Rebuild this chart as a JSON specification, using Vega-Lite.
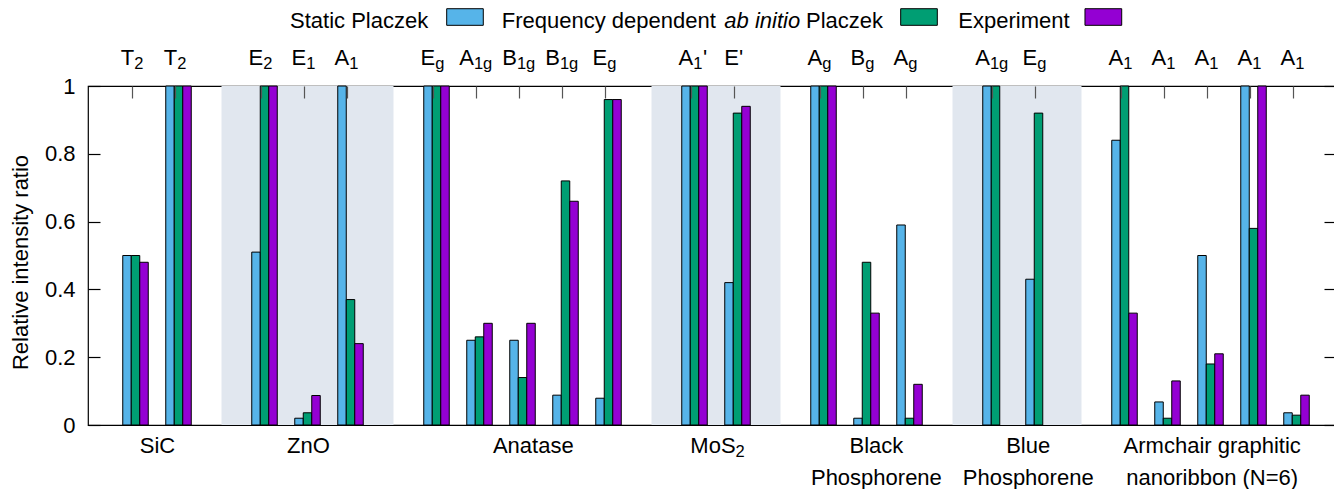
{
  "$schema": "https://vega.github.io/schema/vega-lite/v6.json",
  "width": 1248,
  "height": 339,
  "autosize": {"type": "none"},
  "padding": {"left": 88, "top": 86, "right": 0, "bottom": 64},
  "config": {
    "font": "Liberation Sans",
    "view": {"stroke": "#000", "strokeWidth": 1.2},
    "text": {"font": "Liberation Sans", "color": "#000"},
    "scale": {"continuousPadding": 0}
  },
  "datasets": {
    "bars": [
      {"slot": 0, "series": "Static Placzek", "value": 0.50},
      {"slot": 0, "series": "Frequency dependent ab initio Placzek", "value": 0.50},
      {"slot": 0, "series": "Experiment", "value": 0.48},
      {"slot": 1, "series": "Static Placzek", "value": 1},
      {"slot": 1, "series": "Frequency dependent ab initio Placzek", "value": 1},
      {"slot": 1, "series": "Experiment", "value": 1},
      {"slot": 3, "series": "Static Placzek", "value": 0.51},
      {"slot": 3, "series": "Frequency dependent ab initio Placzek", "value": 1},
      {"slot": 3, "series": "Experiment", "value": 1},
      {"slot": 4, "series": "Static Placzek", "value": 0.02},
      {"slot": 4, "series": "Frequency dependent ab initio Placzek", "value": 0.036},
      {"slot": 4, "series": "Experiment", "value": 0.087},
      {"slot": 5, "series": "Static Placzek", "value": 1},
      {"slot": 5, "series": "Frequency dependent ab initio Placzek", "value": 0.37},
      {"slot": 5, "series": "Experiment", "value": 0.24},
      {"slot": 7, "series": "Static Placzek", "value": 1},
      {"slot": 7, "series": "Frequency dependent ab initio Placzek", "value": 1},
      {"slot": 7, "series": "Experiment", "value": 1},
      {"slot": 8, "series": "Static Placzek", "value": 0.25},
      {"slot": 8, "series": "Frequency dependent ab initio Placzek", "value": 0.26},
      {"slot": 8, "series": "Experiment", "value": 0.30},
      {"slot": 9, "series": "Static Placzek", "value": 0.25},
      {"slot": 9, "series": "Frequency dependent ab initio Placzek", "value": 0.14},
      {"slot": 9, "series": "Experiment", "value": 0.30},
      {"slot": 10, "series": "Static Placzek", "value": 0.088},
      {"slot": 10, "series": "Frequency dependent ab initio Placzek", "value": 0.72},
      {"slot": 10, "series": "Experiment", "value": 0.66},
      {"slot": 11, "series": "Static Placzek", "value": 0.079},
      {"slot": 11, "series": "Frequency dependent ab initio Placzek", "value": 0.96},
      {"slot": 11, "series": "Experiment", "value": 0.96},
      {"slot": 13, "series": "Static Placzek", "value": 1},
      {"slot": 13, "series": "Frequency dependent ab initio Placzek", "value": 1},
      {"slot": 13, "series": "Experiment", "value": 1},
      {"slot": 14, "series": "Static Placzek", "value": 0.42},
      {"slot": 14, "series": "Frequency dependent ab initio Placzek", "value": 0.92},
      {"slot": 14, "series": "Experiment", "value": 0.94},
      {"slot": 16, "series": "Static Placzek", "value": 1},
      {"slot": 16, "series": "Frequency dependent ab initio Placzek", "value": 1},
      {"slot": 16, "series": "Experiment", "value": 1},
      {"slot": 17, "series": "Static Placzek", "value": 0.02},
      {"slot": 17, "series": "Frequency dependent ab initio Placzek", "value": 0.48},
      {"slot": 17, "series": "Experiment", "value": 0.33},
      {"slot": 18, "series": "Static Placzek", "value": 0.59},
      {"slot": 18, "series": "Frequency dependent ab initio Placzek", "value": 0.02},
      {"slot": 18, "series": "Experiment", "value": 0.12},
      {"slot": 20, "series": "Static Placzek", "value": 1},
      {"slot": 20, "series": "Frequency dependent ab initio Placzek", "value": 1},
      {"slot": 21, "series": "Static Placzek", "value": 0.43},
      {"slot": 21, "series": "Frequency dependent ab initio Placzek", "value": 0.92},
      {"slot": 23, "series": "Static Placzek", "value": 0.84},
      {"slot": 23, "series": "Frequency dependent ab initio Placzek", "value": 1},
      {"slot": 23, "series": "Experiment", "value": 0.33},
      {"slot": 24, "series": "Static Placzek", "value": 0.068},
      {"slot": 24, "series": "Frequency dependent ab initio Placzek", "value": 0.02},
      {"slot": 24, "series": "Experiment", "value": 0.13},
      {"slot": 25, "series": "Static Placzek", "value": 0.50},
      {"slot": 25, "series": "Frequency dependent ab initio Placzek", "value": 0.18},
      {"slot": 25, "series": "Experiment", "value": 0.21},
      {"slot": 26, "series": "Static Placzek", "value": 1},
      {"slot": 26, "series": "Frequency dependent ab initio Placzek", "value": 0.58},
      {"slot": 26, "series": "Experiment", "value": 1},
      {"slot": 27, "series": "Static Placzek", "value": 0.036},
      {"slot": 27, "series": "Frequency dependent ab initio Placzek", "value": 0.029},
      {"slot": 27, "series": "Experiment", "value": 0.088}
    ],
    "modes": [
      {"slot": 0, "main": "T", "sub": "2"},
      {"slot": 1, "main": "T", "sub": "2"},
      {"slot": 3, "main": "E", "sub": "2"},
      {"slot": 4, "main": "E", "sub": "1"},
      {"slot": 5, "main": "A", "sub": "1"},
      {"slot": 7, "main": "E", "sub": "g"},
      {"slot": 8, "main": "A", "sub": "1g"},
      {"slot": 9, "main": "B", "sub": "1g"},
      {"slot": 10, "main": "B", "sub": "1g"},
      {"slot": 11, "main": "E", "sub": "g"},
      {"slot": 13, "main": "A", "sub": "1", "post": "'"},
      {"slot": 14, "plain": "E'"},
      {"slot": 16, "main": "A", "sub": "g"},
      {"slot": 17, "main": "B", "sub": "g"},
      {"slot": 18, "main": "A", "sub": "g"},
      {"slot": 20, "main": "A", "sub": "1g"},
      {"slot": 21, "main": "E", "sub": "g"},
      {"slot": 23, "main": "A", "sub": "1"},
      {"slot": 24, "main": "A", "sub": "1"},
      {"slot": 25, "main": "A", "sub": "1"},
      {"slot": 26, "main": "A", "sub": "1"},
      {"slot": 27, "main": "A", "sub": "1"}
    ],
    "groups": [
      {"pos": 0.51, "name": "SiC"},
      {"pos": 4.02, "name": "ZnO"},
      {"pos": 9.25, "name": "Anatase"},
      {"pos": 13.43, "name": "MoS", "sub": "2"},
      {"pos": 17.23, "name": "Black\nPhosphorene"},
      {"pos": 20.76, "name": "Blue\nPhosphorene"},
      {"pos": 25.04, "name": "Armchair graphitic\nnanoribbon (N=6)"}
    ],
    "shades": [
      {"group": "ZnO", "start": 2, "end": 6},
      {"group": "MoS2", "start": 12, "end": 15},
      {"group": "Blue Phosphorene", "start": 19, "end": 22}
    ],
    "legend": [
      {"series": "Static Placzek"},
      {"series": "Frequency dependent ab initio Placzek"},
      {"series": "Experiment"}
    ]
  },
  "resolve": {"axis": {"x": "independent", "y": "independent"}},
  "layer": [
    {
      "data": {"name": "shades"},
      "mark": {"type": "rect", "color": "#e1e7ef"},
      "encoding": {
        "x": {"field": "start", "type": "quantitative", "scale": {"domain": [-1.1047, 27.9186], "nice": false, "zero": false, "padding": 0}, "axis": null},
        "x2": {"field": "end"},
        "y": {"datum": 0, "type": "quantitative", "scale": {"domain": [0, 1], "nice": false}, "axis": null},
        "y2": {"datum": 1}
      }
    },
    {
      "data": {"name": "bars"},
      "transform": [{"filter": "datum.series == 'Static Placzek'"}],
      "mark": {"type": "bar", "width": 8.5, "xOffset": -8.5, "stroke": "#000", "strokeWidth": 1},
      "encoding": {
        "x": {"field": "slot", "type": "quantitative", "scale": {"domain": [-1.1047, 27.9186], "nice": false, "zero": false, "padding": 0},
          "axis": {"orient": "top", "values": [0, 1, 3, 4, 5, 7, 8, 9, 10, 11, 13, 14, 16, 17, 18, 20, 21, 23, 24, 25, 26, 27], "labels": false, "domain": false, "grid": false, "ticks": true, "tickSize": -12, "tickColor": "#555", "tickWidth": 1.2, "tickOffset": -4, "title": null, "zindex": 1}},
        "y": {"field": "value", "type": "quantitative", "scale": {"domain": [0, 1], "nice": false},
          "axis": {"orient": "left", "values": [0, 0.2, 0.4, 0.6, 0.8, 1], "format": "~g", "domain": false, "grid": false, "tickSize": -12, "tickColor": "#000", "tickWidth": 1.2, "labelFontSize": 22, "labelColor": "#000", "labelPadding": 25, "title": "Relative intensity ratio", "titleFontSize": 22, "titleFontWeight": "normal", "titleColor": "#000", "titlePadding": 12, "titleY": 176, "zindex": 1}},
        "fill": {"field": "series", "type": "nominal", "scale": {"domain": ["Static Placzek", "Frequency dependent ab initio Placzek", "Experiment"], "range": ["#56B4E9", "#009E73", "#9400D3"]}, "legend": null}
      }
    },
    {
      "data": {"name": "bars"},
      "transform": [{"filter": "datum.series == 'Frequency dependent ab initio Placzek'"}],
      "mark": {"type": "bar", "width": 8.5, "xOffset": 0, "stroke": "#000", "strokeWidth": 1},
      "encoding": {
        "x": {"field": "slot", "type": "quantitative", "scale": {"domain": [-1.1047, 27.9186], "nice": false, "zero": false, "padding": 0}, "axis": null},
        "y": {"field": "value", "type": "quantitative", "scale": {"domain": [0, 1], "nice": false},
          "axis": {"orient": "right", "values": [0, 0.2, 0.4, 0.6, 0.8, 1], "labels": false, "domain": false, "grid": false, "tickSize": -12, "tickColor": "#000", "tickWidth": 1.2, "title": null, "zindex": 1}},
        "fill": {"field": "series", "type": "nominal", "legend": null}
      }
    },
    {
      "data": {"name": "bars"},
      "transform": [{"filter": "datum.series == 'Experiment'"}],
      "mark": {"type": "bar", "width": 8.5, "xOffset": 8.5, "stroke": "#000", "strokeWidth": 1},
      "encoding": {
        "x": {"field": "slot", "type": "quantitative", "scale": {"domain": [-1.1047, 27.9186], "nice": false, "zero": false, "padding": 0}, "axis": null},
        "y": {"field": "value", "type": "quantitative", "scale": {"domain": [0, 1], "nice": false}, "axis": null},
        "fill": {"field": "series", "type": "nominal", "legend": null}
      }
    },
    {
      "data": {"name": "modes"},
      "transform": [{"filter": "datum.main && length(datum.sub) == 1"}],
      "mark": {"type": "text", "align": "right", "baseline": "alphabetic", "dx": -1.3, "dy": -21, "fontSize": 22, "clip": false},
      "encoding": {
        "x": {"field": "slot", "type": "quantitative", "scale": {"domain": [-1.1047, 27.9186], "nice": false, "zero": false, "padding": 0}, "axis": null},
        "y": {"datum": 1, "type": "quantitative", "scale": {"domain": [0, 1], "nice": false}, "axis": null},
        "text": {"field": "main"}
      }
    },
    {
      "data": {"name": "modes"},
      "transform": [{"filter": "datum.main && length(datum.sub) == 1"}],
      "mark": {"type": "text", "align": "left", "baseline": "alphabetic", "dx": -1.3, "dy": -17, "fontSize": 16.5, "clip": false},
      "encoding": {
        "x": {"field": "slot", "type": "quantitative", "scale": {"domain": [-1.1047, 27.9186], "nice": false, "zero": false, "padding": 0}, "axis": null},
        "y": {"datum": 1, "type": "quantitative", "scale": {"domain": [0, 1], "nice": false}, "axis": null},
        "text": {"field": "sub"}
      }
    },
    {
      "data": {"name": "modes"},
      "transform": [{"filter": "datum.main && length(datum.sub) == 2"}],
      "mark": {"type": "text", "align": "right", "baseline": "alphabetic", "dx": -5.6, "dy": -21, "fontSize": 22, "clip": false},
      "encoding": {
        "x": {"field": "slot", "type": "quantitative", "scale": {"domain": [-1.1047, 27.9186], "nice": false, "zero": false, "padding": 0}, "axis": null},
        "y": {"datum": 1, "type": "quantitative", "scale": {"domain": [0, 1], "nice": false}, "axis": null},
        "text": {"field": "main"}
      }
    },
    {
      "data": {"name": "modes"},
      "transform": [{"filter": "datum.main && length(datum.sub) == 2"}],
      "mark": {"type": "text", "align": "left", "baseline": "alphabetic", "dx": -5.6, "dy": -17, "fontSize": 16.5, "clip": false},
      "encoding": {
        "x": {"field": "slot", "type": "quantitative", "scale": {"domain": [-1.1047, 27.9186], "nice": false, "zero": false, "padding": 0}, "axis": null},
        "y": {"datum": 1, "type": "quantitative", "scale": {"domain": [0, 1], "nice": false}, "axis": null},
        "text": {"field": "sub"}
      }
    },
    {
      "data": {"name": "modes"},
      "transform": [{"filter": "datum.post"}],
      "mark": {"type": "text", "align": "left", "baseline": "alphabetic", "dx": 8.4, "dy": -21, "fontSize": 22, "clip": false},
      "encoding": {
        "x": {"field": "slot", "type": "quantitative", "scale": {"domain": [-1.1047, 27.9186], "nice": false, "zero": false, "padding": 0}, "axis": null},
        "y": {"datum": 1, "type": "quantitative", "scale": {"domain": [0, 1], "nice": false}, "axis": null},
        "text": {"field": "post"}
      }
    },
    {
      "data": {"name": "modes"},
      "transform": [{"filter": "datum.plain"}],
      "mark": {"type": "text", "align": "center", "baseline": "alphabetic", "dx": -3.8, "dy": -21, "fontSize": 22, "clip": false},
      "encoding": {
        "x": {"field": "slot", "type": "quantitative", "scale": {"domain": [-1.1047, 27.9186], "nice": false, "zero": false, "padding": 0}, "axis": null},
        "y": {"datum": 1, "type": "quantitative", "scale": {"domain": [0, 1], "nice": false}, "axis": null},
        "text": {"field": "plain"}
      }
    },
    {
      "data": {"name": "groups"},
      "mark": {"type": "text", "align": "center", "baseline": "alphabetic", "dy": 28, "fontSize": 22, "lineBreak": "\n", "lineHeight": 32, "clip": false},
      "encoding": {
        "x": {"field": "pos", "type": "quantitative", "scale": {"domain": [-1.1047, 27.9186], "nice": false, "zero": false, "padding": 0}, "axis": null},
        "y": {"datum": 0, "type": "quantitative", "scale": {"domain": [0, 1], "nice": false}, "axis": null},
        "text": {"field": "name"}
      }
    },
    {
      "data": {"name": "groups"},
      "transform": [{"filter": "datum.sub"}],
      "mark": {"type": "text", "align": "left", "baseline": "alphabetic", "dx": 22.6, "dy": 32, "fontSize": 16.5, "clip": false},
      "encoding": {
        "x": {"field": "pos", "type": "quantitative", "scale": {"domain": [-1.1047, 27.9186], "nice": false, "zero": false, "padding": 0}, "axis": null},
        "y": {"datum": 0, "type": "quantitative", "scale": {"domain": [0, 1], "nice": false}, "axis": null},
        "text": {"field": "sub"}
      }
    },
    {
      "data": {"name": "legend"},
      "transform": [{"filter": "datum.series == 'Static Placzek'"}],
      "mark": {"type": "text", "align": "left", "baseline": "alphabetic", "dy": -58, "fontSize": 22, "clip": false},
      "encoding": {
        "x": {"datum": 3.593, "type": "quantitative", "scale": {"domain": [-1.1047, 27.9186], "nice": false, "zero": false, "padding": 0}, "axis": null},
        "y": {"datum": 1, "type": "quantitative", "scale": {"domain": [0, 1], "nice": false}, "axis": null},
        "text": {"field": "series"}
      }
    },
    {
      "data": {"name": "legend"},
      "transform": [{"filter": "datum.series == 'Frequency dependent ab initio Placzek'"}],
      "mark": {"type": "text", "align": "left", "baseline": "alphabetic", "dy": -58, "fontSize": 22, "clip": false, "text": "Frequency dependent"},
      "encoding": {
        "x": {"datum": 8.516, "type": "quantitative", "scale": {"domain": [-1.1047, 27.9186], "nice": false, "zero": false, "padding": 0}, "axis": null},
        "y": {"datum": 1, "type": "quantitative", "scale": {"domain": [0, 1], "nice": false}, "axis": null}
      }
    },
    {
      "data": {"name": "legend"},
      "transform": [{"filter": "datum.series == 'Frequency dependent ab initio Placzek'"}],
      "mark": {"type": "text", "align": "left", "baseline": "alphabetic", "dy": -58, "fontSize": 22, "fontStyle": "italic", "clip": false, "text": "ab initio"},
      "encoding": {
        "x": {"datum": 13.693, "type": "quantitative", "scale": {"domain": [-1.1047, 27.9186], "nice": false, "zero": false, "padding": 0}, "axis": null},
        "y": {"datum": 1, "type": "quantitative", "scale": {"domain": [0, 1], "nice": false}, "axis": null}
      }
    },
    {
      "data": {"name": "legend"},
      "transform": [{"filter": "datum.series == 'Frequency dependent ab initio Placzek'"}],
      "mark": {"type": "text", "align": "left", "baseline": "alphabetic", "dy": -58, "fontSize": 22, "clip": false, "text": "Placzek"},
      "encoding": {
        "x": {"datum": 15.593, "type": "quantitative", "scale": {"domain": [-1.1047, 27.9186], "nice": false, "zero": false, "padding": 0}, "axis": null},
        "y": {"datum": 1, "type": "quantitative", "scale": {"domain": [0, 1], "nice": false}, "axis": null}
      }
    },
    {
      "data": {"name": "legend"},
      "transform": [{"filter": "datum.series == 'Experiment'"}],
      "mark": {"type": "text", "align": "left", "baseline": "alphabetic", "dy": -58, "fontSize": 22, "clip": false},
      "encoding": {
        "x": {"datum": 19.135, "type": "quantitative", "scale": {"domain": [-1.1047, 27.9186], "nice": false, "zero": false, "padding": 0}, "axis": null},
        "y": {"datum": 1, "type": "quantitative", "scale": {"domain": [0, 1], "nice": false}, "axis": null},
        "text": {"field": "series"}
      }
    },
    {
      "data": {"name": "legend"},
      "transform": [{"filter": "datum.series == 'Static Placzek'"}],
      "mark": {"type": "rect", "stroke": "#000", "strokeWidth": 1, "clip": false},
      "encoding": {
        "x": {"datum": 7.237, "type": "quantitative", "scale": {"domain": [-1.1047, 27.9186], "nice": false, "zero": false, "padding": 0}, "axis": null},
        "x2": {"datum": 8.088},
        "y": {"datum": 1.228, "type": "quantitative", "scale": {"domain": [0, 1], "nice": false}, "axis": null},
        "y2": {"datum": 1.179},
        "fill": {"field": "series", "type": "nominal", "legend": null}
      }
    },
    {
      "data": {"name": "legend"},
      "transform": [{"filter": "datum.series == 'Frequency dependent ab initio Placzek'"}],
      "mark": {"type": "rect", "stroke": "#000", "strokeWidth": 1, "clip": false},
      "encoding": {
        "x": {"datum": 17.795, "type": "quantitative", "scale": {"domain": [-1.1047, 27.9186], "nice": false, "zero": false, "padding": 0}, "axis": null},
        "x2": {"datum": 18.647},
        "y": {"datum": 1.228, "type": "quantitative", "scale": {"domain": [0, 1], "nice": false}, "axis": null},
        "y2": {"datum": 1.179},
        "fill": {"field": "series", "type": "nominal", "legend": null}
      }
    },
    {
      "data": {"name": "legend"},
      "transform": [{"filter": "datum.series == 'Experiment'"}],
      "mark": {"type": "rect", "stroke": "#000", "strokeWidth": 1, "clip": false},
      "encoding": {
        "x": {"datum": 22.081, "type": "quantitative", "scale": {"domain": [-1.1047, 27.9186], "nice": false, "zero": false, "padding": 0}, "axis": null},
        "x2": {"datum": 22.935},
        "y": {"datum": 1.228, "type": "quantitative", "scale": {"domain": [0, 1], "nice": false}, "axis": null},
        "y2": {"datum": 1.179},
        "fill": {"field": "series", "type": "nominal", "legend": null}
      }
    }
  ]
}
